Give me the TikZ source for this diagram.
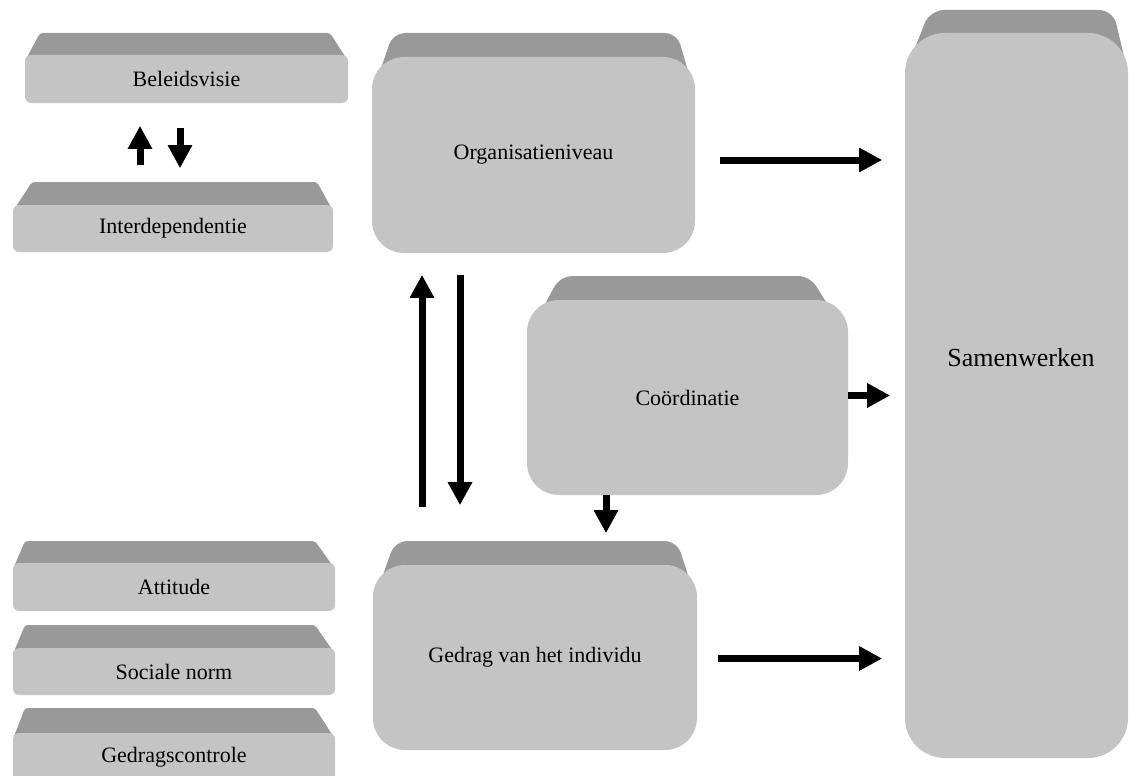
\documentclass[tikz,border=0pt]{standalone}
\usepackage{fontspec}
\setmainfont{Liberation Serif}
\usetikzlibrary{arrows.meta,calc}
\definecolor{faceC}{RGB}{196,196,196}
\definecolor{bevC}{RGB}{153,153,153}
\tikzset{
  face/.style={fill=faceC, draw=none, inner sep=0pt, font=\fontsize{22}{26}\selectfont},
  bevel/.style={fill=bevC, draw=none},
  arr/.style={-{Triangle[length=23pt,width=23pt]}, line width=7pt, black}
}
\begin{document}
\begin{tikzpicture}[x=1pt,y=-1pt]
\useasboundingbox (0,0) rectangle (1130,776);
% bevels (top faces)
\fill[bevel, rounded corners=3pt] (25,61) -- (40,33) -- (330,33) -- (348,61) -- cycle;
\fill[bevel, rounded corners=3pt] (13,211) -- (32,182) -- (317,182) -- (333,211) -- cycle;
\fill[bevel, rounded corners=3pt] (13,569) -- (25,541) -- (315,541) -- (335,569) -- cycle;
\fill[bevel, rounded corners=3pt] (13,654) -- (25,625) -- (315,625) -- (335,654) -- cycle;
\fill[bevel, rounded corners=3pt] (13,739) -- (25,708) -- (315,708) -- (335,739) -- cycle;
\fill[bevel, rounded corners=12pt] (372,95) -- (393,33) -- (677,33) -- (695,95) -- cycle;
\fill[bevel, rounded corners=12pt] (527,338) -- (560,276) -- (810,276) -- (848,338) -- cycle;
\fill[bevel, rounded corners=12pt] (373,603) -- (395,541) -- (677,541) -- (697,603) -- cycle;
\fill[bevel, rounded corners=14pt] (905,73) -- (930,10) -- (1113,10) -- (1128,73) -- cycle;
% front faces
\node[face, minimum width=323pt, minimum height=48pt, rounded corners=6pt] (bel) at (186.5,79) {Beleidsvisie};
\node[face, minimum width=320pt, minimum height=47pt, rounded corners=6pt] (int) at (173,228.5) {Interdependentie};
\node[face, minimum width=322pt, minimum height=48pt, rounded corners=6pt] (att) at (174,587) {Attitude};
\node[face, minimum width=322pt, minimum height=47pt, rounded corners=6pt] (soc) at (174,671.5) {Sociale norm};
\node[face, minimum width=322pt, minimum height=49pt, rounded corners=6pt] (gdc) at (174,757.5) {Gedragscontrole};
\node[face, minimum width=323pt, minimum height=196pt, rounded corners=32pt] (org) at (533.5,155) {Organisatieniveau};
\node[face, minimum width=321pt, minimum height=195pt, rounded corners=32pt] (coo) at (687.5,397.5) {Coördinatie};
\node[face, minimum width=324pt, minimum height=185pt, rounded corners=32pt] (ged) at (535,657.5) {Gedrag van het individu};
\node[face, minimum width=223pt, minimum height=725pt, rounded corners=40pt] (sam) at (1016.5,395.5) {};
\node[font=\fontsize{26}{30}\selectfont, inner sep=0pt] (samt) at (1021,358) {Samenwerken};
% arrows
\draw[arr] ($(int.north)+(-33,-40)$) -- ($(int.north)+(-33,-79)$);
\draw[arr] ($(bel.south)+(-6.5,25)$) -- ($(bel.south)+(-6.5,65)$);
\draw[arr] ($(org.east)+(25,5)$) -- ($(org.east)+(187,5)$);
\draw[arr] ($(ged.north)+(-113,-58)$) -- ($(ged.north)+(-113,-290)$);
\draw[arr] ($(org.south)+(-73.5,22)$) -- ($(org.south)+(-73.5,252)$);
\draw[arr] ($(coo.south)+(-81.5,0)$) -- ($(coo.south)+(-81.5,38)$);
\draw[arr] ($(coo.east)+(0,-2)$) -- ($(coo.east)+(42,-2)$);
\draw[arr] ($(ged.east)+(21,1)$) -- ($(ged.east)+(185,1)$);
\end{tikzpicture}
\end{document}
